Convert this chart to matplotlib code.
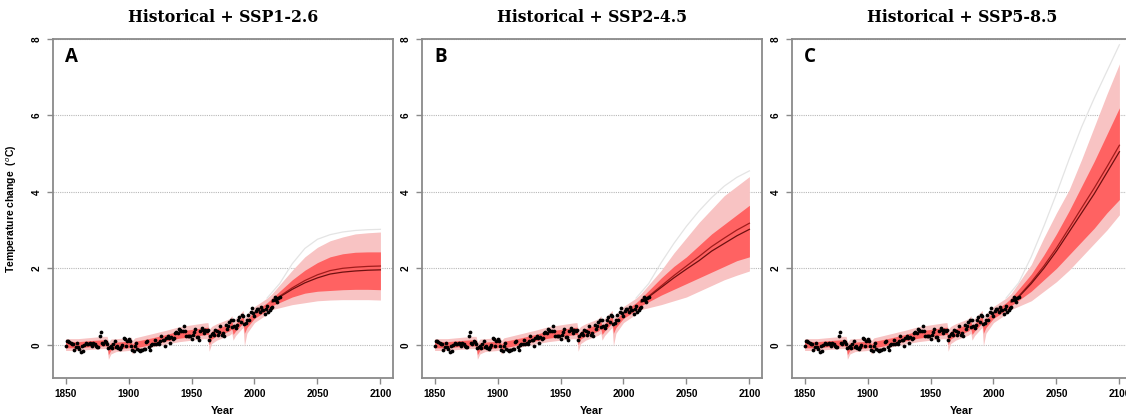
import matplotlib.pyplot as plt

# observed annual anomalies (deg C, relative to 1850-1900), 1850-2020
obs_years = list(range(1850, 2021))
obs_temp = [
    -0.04, 0.11, 0.10, 0.06, 0.04, 0.03, 0.01, -0.14, -0.06, 0.05,
    -0.06, -0.10, -0.20, -0.02, -0.16, 0.00, 0.04, 0.01, 0.01, 0.05,
    0.01, -0.03, 0.05, 0.03, -0.03, -0.07, -0.05, 0.23, 0.34, 0.05,
    0.03, 0.11, 0.07, 0.01, -0.08, -0.07, -0.04, -0.08, 0.02, 0.09,
    -0.07, -0.03, -0.09, -0.10, -0.05, -0.01, 0.17, 0.16, -0.02, 0.10,
    0.16, 0.09, -0.03, -0.13, -0.16, -0.02, 0.05, -0.11, -0.15, -0.17,
    -0.13, -0.15, -0.12, -0.10, 0.07, 0.11, -0.06, -0.13, 0.00, 0.02,
    0.03, 0.12, 0.03, 0.05, 0.03, 0.11, 0.22, 0.12, 0.12, -0.04,
    0.17, 0.23, 0.17, 0.04, 0.20, 0.14, 0.18, 0.31, 0.33, 0.31,
    0.42, 0.38, 0.36, 0.37, 0.48, 0.36, 0.24, 0.24, 0.22, 0.22,
    0.15, 0.26, 0.34, 0.41, 0.21, 0.19, 0.13, 0.37, 0.44, 0.39,
    0.30, 0.39, 0.36, 0.39, 0.13, 0.22, 0.27, 0.31, 0.25, 0.38,
    0.36, 0.25, 0.34, 0.49, 0.26, 0.32, 0.23, 0.51, 0.40, 0.49,
    0.59, 0.65, 0.47, 0.64, 0.49, 0.45, 0.51, 0.66, 0.73, 0.60,
    0.78, 0.74, 0.55, 0.56, 0.64, 0.78, 0.66, 0.85, 0.96, 0.82,
    0.76, 0.87, 0.93, 0.93, 0.86, 0.98, 0.92, 0.92, 0.80, 0.93,
    1.01, 0.86, 0.91, 0.95, 1.00, 1.16, 1.26, 1.18, 1.12, 1.22, 1.25,
]

# historical model ensemble (shared by all panels)
hist_years = [1850, 1860, 1870, 1880, 1883, 1884, 1886, 1890, 1900, 1902, 1903,
              1905, 1910, 1920, 1930, 1940, 1950, 1960, 1963, 1964, 1966, 1970,
              1980, 1982, 1983, 1985, 1990, 1991, 1992, 1994, 2000, 2010, 2014]
hist_med = [0.00, 0.00, 0.03, 0.05, 0.05, -0.15, -0.05, -0.02, 0.00, 0.02, -0.08,
            0.00, 0.03, 0.10, 0.18, 0.26, 0.30, 0.35, 0.36, 0.12, 0.25, 0.32,
            0.45, 0.52, 0.38, 0.45, 0.62, 0.66, 0.42, 0.55, 0.78, 1.00, 1.12]
hist_red_lo = [-0.08, -0.08, -0.05, -0.03, -0.03, -0.26, -0.14, -0.10, -0.08, -0.06, -0.17,
               -0.08, -0.05, 0.02, 0.10, 0.17, 0.21, 0.26, 0.27, 0.00, 0.15, 0.23,
               0.36, 0.42, 0.27, 0.36, 0.53, 0.57, 0.30, 0.45, 0.69, 0.90, 1.02]
hist_red_hi = [0.08, 0.08, 0.11, 0.13, 0.13, -0.05, 0.05, 0.07, 0.09, 0.11, 0.01,
               0.09, 0.12, 0.19, 0.27, 0.36, 0.40, 0.45, 0.46, 0.24, 0.35, 0.42,
               0.55, 0.62, 0.49, 0.55, 0.72, 0.76, 0.54, 0.66, 0.88, 1.10, 1.22]
hist_pink_lo = [-0.15, -0.15, -0.12, -0.10, -0.10, -0.38, -0.24, -0.18, -0.15, -0.13, -0.25,
                -0.15, -0.12, -0.05, 0.02, 0.08, 0.12, 0.16, 0.15, -0.17, 0.03, 0.12,
                0.25, 0.30, 0.12, 0.24, 0.42, 0.45, -0.03, 0.30, 0.58, 0.80, 0.92]
hist_pink_hi = [0.16, 0.16, 0.19, 0.22, 0.22, 0.06, 0.15, 0.16, 0.18, 0.20, 0.11,
                0.18, 0.22, 0.30, 0.38, 0.47, 0.52, 0.57, 0.58, 0.40, 0.48, 0.55,
                0.68, 0.76, 0.64, 0.69, 0.86, 0.90, 0.70, 0.80, 1.00, 1.22, 1.34]

# scenario projections
ssp_years = [2020, 2030, 2040, 2050, 2060, 2070, 2080, 2090, 2100]
scenarios = ['Historical + SSP1-2.6', 'Historical + SSP2-4.5', 'Historical + SSP5-8.5']
letters = ['A', 'B', 'C']

ssp_med = [
    [1.25, 1.45, 1.62, 1.75, 1.85, 1.90, 1.93, 1.95, 1.96],
    [1.25, 1.50, 1.75, 1.98, 2.20, 2.45, 2.65, 2.85, 3.02],
    [1.25, 1.60, 2.00, 2.45, 2.95, 3.45, 3.95, 4.50, 5.05],
]
ssp_mean = [
    [1.27, 1.49, 1.68, 1.83, 1.94, 2.00, 2.03, 2.05, 2.06],
    [1.27, 1.54, 1.81, 2.06, 2.31, 2.57, 2.79, 3.00, 3.18],
    [1.27, 1.64, 2.06, 2.53, 3.05, 3.58, 4.10, 4.65, 5.22],
]
ssp_red_lo = [
    [1.12, 1.25, 1.35, 1.40, 1.42, 1.44, 1.45, 1.45, 1.44],
    [1.12, 1.30, 1.45, 1.60, 1.75, 1.90, 2.05, 2.20, 2.30],
    [1.12, 1.40, 1.70, 2.00, 2.35, 2.70, 3.05, 3.45, 3.80],
]
ssp_red_hi = [
    [1.38, 1.70, 1.95, 2.15, 2.30, 2.38, 2.42, 2.43, 2.43],
    [1.38, 1.75, 2.05, 2.30, 2.60, 2.90, 3.15, 3.40, 3.65],
    [1.40, 1.85, 2.35, 2.90, 3.50, 4.15, 4.80, 5.50, 6.20],
]
ssp_pink_lo = [
    [1.00, 1.05, 1.10, 1.15, 1.17, 1.18, 1.18, 1.18, 1.17],
    [1.00, 1.05, 1.15, 1.25, 1.40, 1.55, 1.70, 1.82, 1.93],
    [1.00, 1.15, 1.40, 1.65, 1.95, 2.30, 2.65, 3.00, 3.40],
]
ssp_pink_hi = [
    [1.50, 1.95, 2.30, 2.55, 2.72, 2.82, 2.90, 2.93, 2.95],
    [1.50, 1.95, 2.40, 2.80, 3.20, 3.55, 3.90, 4.15, 4.40],
    [1.55, 2.10, 2.80, 3.45, 4.05, 4.85, 5.70, 6.55, 7.35],
]
ssp_env_hi = [
    [1.60, 2.12, 2.52, 2.76, 2.88, 2.95, 2.99, 3.01, 3.02],
    [1.60, 2.15, 2.65, 3.10, 3.50, 3.85, 4.15, 4.38, 4.55],
    [1.62, 2.30, 3.10, 3.95, 4.85, 5.70, 6.45, 7.15, 7.85],
]

red = '#ff6262'
pink = '#f8c3c3'
gray = '#8a8a8a'

plt.rcParams['font.family'] = ['Liberation Sans', 'DejaVu Sans']

fig = plt.figure(figsize=(11.26, 4.19), dpi=100)
lefts = [53, 422, 792]

for i in range(3):
    ax = fig.add_axes([lefts[i] / 1126, 41 / 419, 340 / 1126, 339 / 419])

    yrs = hist_years + ssp_years[1:]
    ax.plot([2010] + ssp_years, [hist_pink_hi[-2]] + ssp_env_hi[i], color='#e4e4e4', lw=0.9)

    ax.fill_between(yrs, hist_pink_lo + ssp_pink_lo[i][1:], hist_pink_hi + ssp_pink_hi[i][1:],
                    color=pink, lw=0)
    ax.fill_between(yrs, hist_red_lo + ssp_red_lo[i][1:], hist_red_hi + ssp_red_hi[i][1:],
                    color=red, lw=0)
    ax.plot([2014] + ssp_years, [hist_med[-1]] + ssp_mean[i], color='#a11c1c', lw=0.9)
    ax.plot([2014] + ssp_years, [hist_med[-1]] + ssp_med[i], color='#6e1010', lw=0.9)

    ax.plot(obs_years, obs_temp, 'o', color='black', ms=2.7, mew=0)

    for g in [0, 2, 4, 6, 8]:
        ax.axhline(g, color='#b8b8b8', lw=0.8, ls=(0, (1, 1)), zorder=0)

    ax.set_xlim(1840, 2110)
    ax.set_ylim(-0.87, 8)
    ax.set_xticks([1850, 1900, 1950, 2000, 2050, 2100])
    ax.set_yticks([0, 2, 4, 6, 8])
    ax.set_yticklabels(['0', '2', '4', '6', '8'], rotation=90, va='center')
    for s in ax.spines.values():
        s.set_color(gray)
        s.set_linewidth(1.3)
    ax.tick_params(direction='out', length=4, width=1, color=gray, labelsize=7.2, pad=4)
    for lab in ax.get_xticklabels() + ax.get_yticklabels():
        lab.set_fontweight('bold')

    ax.set_xlabel('Year', fontsize=8, fontweight='bold', labelpad=5)
    if i == 0:
        ax.set_ylabel('Temperature change  ($^o$C)', fontsize=7.5, fontweight='bold', labelpad=9)

    ax.text(0.035, 0.975, letters[i], transform=ax.transAxes, fontsize=13.5,
            fontweight='bold', family='Open Sans', va='top', ha='left')
    fig.text((lefts[i] + 170) / 1126, 1 - 17 / 419, scenarios[i], ha='center', va='center',
             fontsize=11.3, fontweight='bold', family='DejaVu Serif')

fig.savefig('out.png', dpi=100)
